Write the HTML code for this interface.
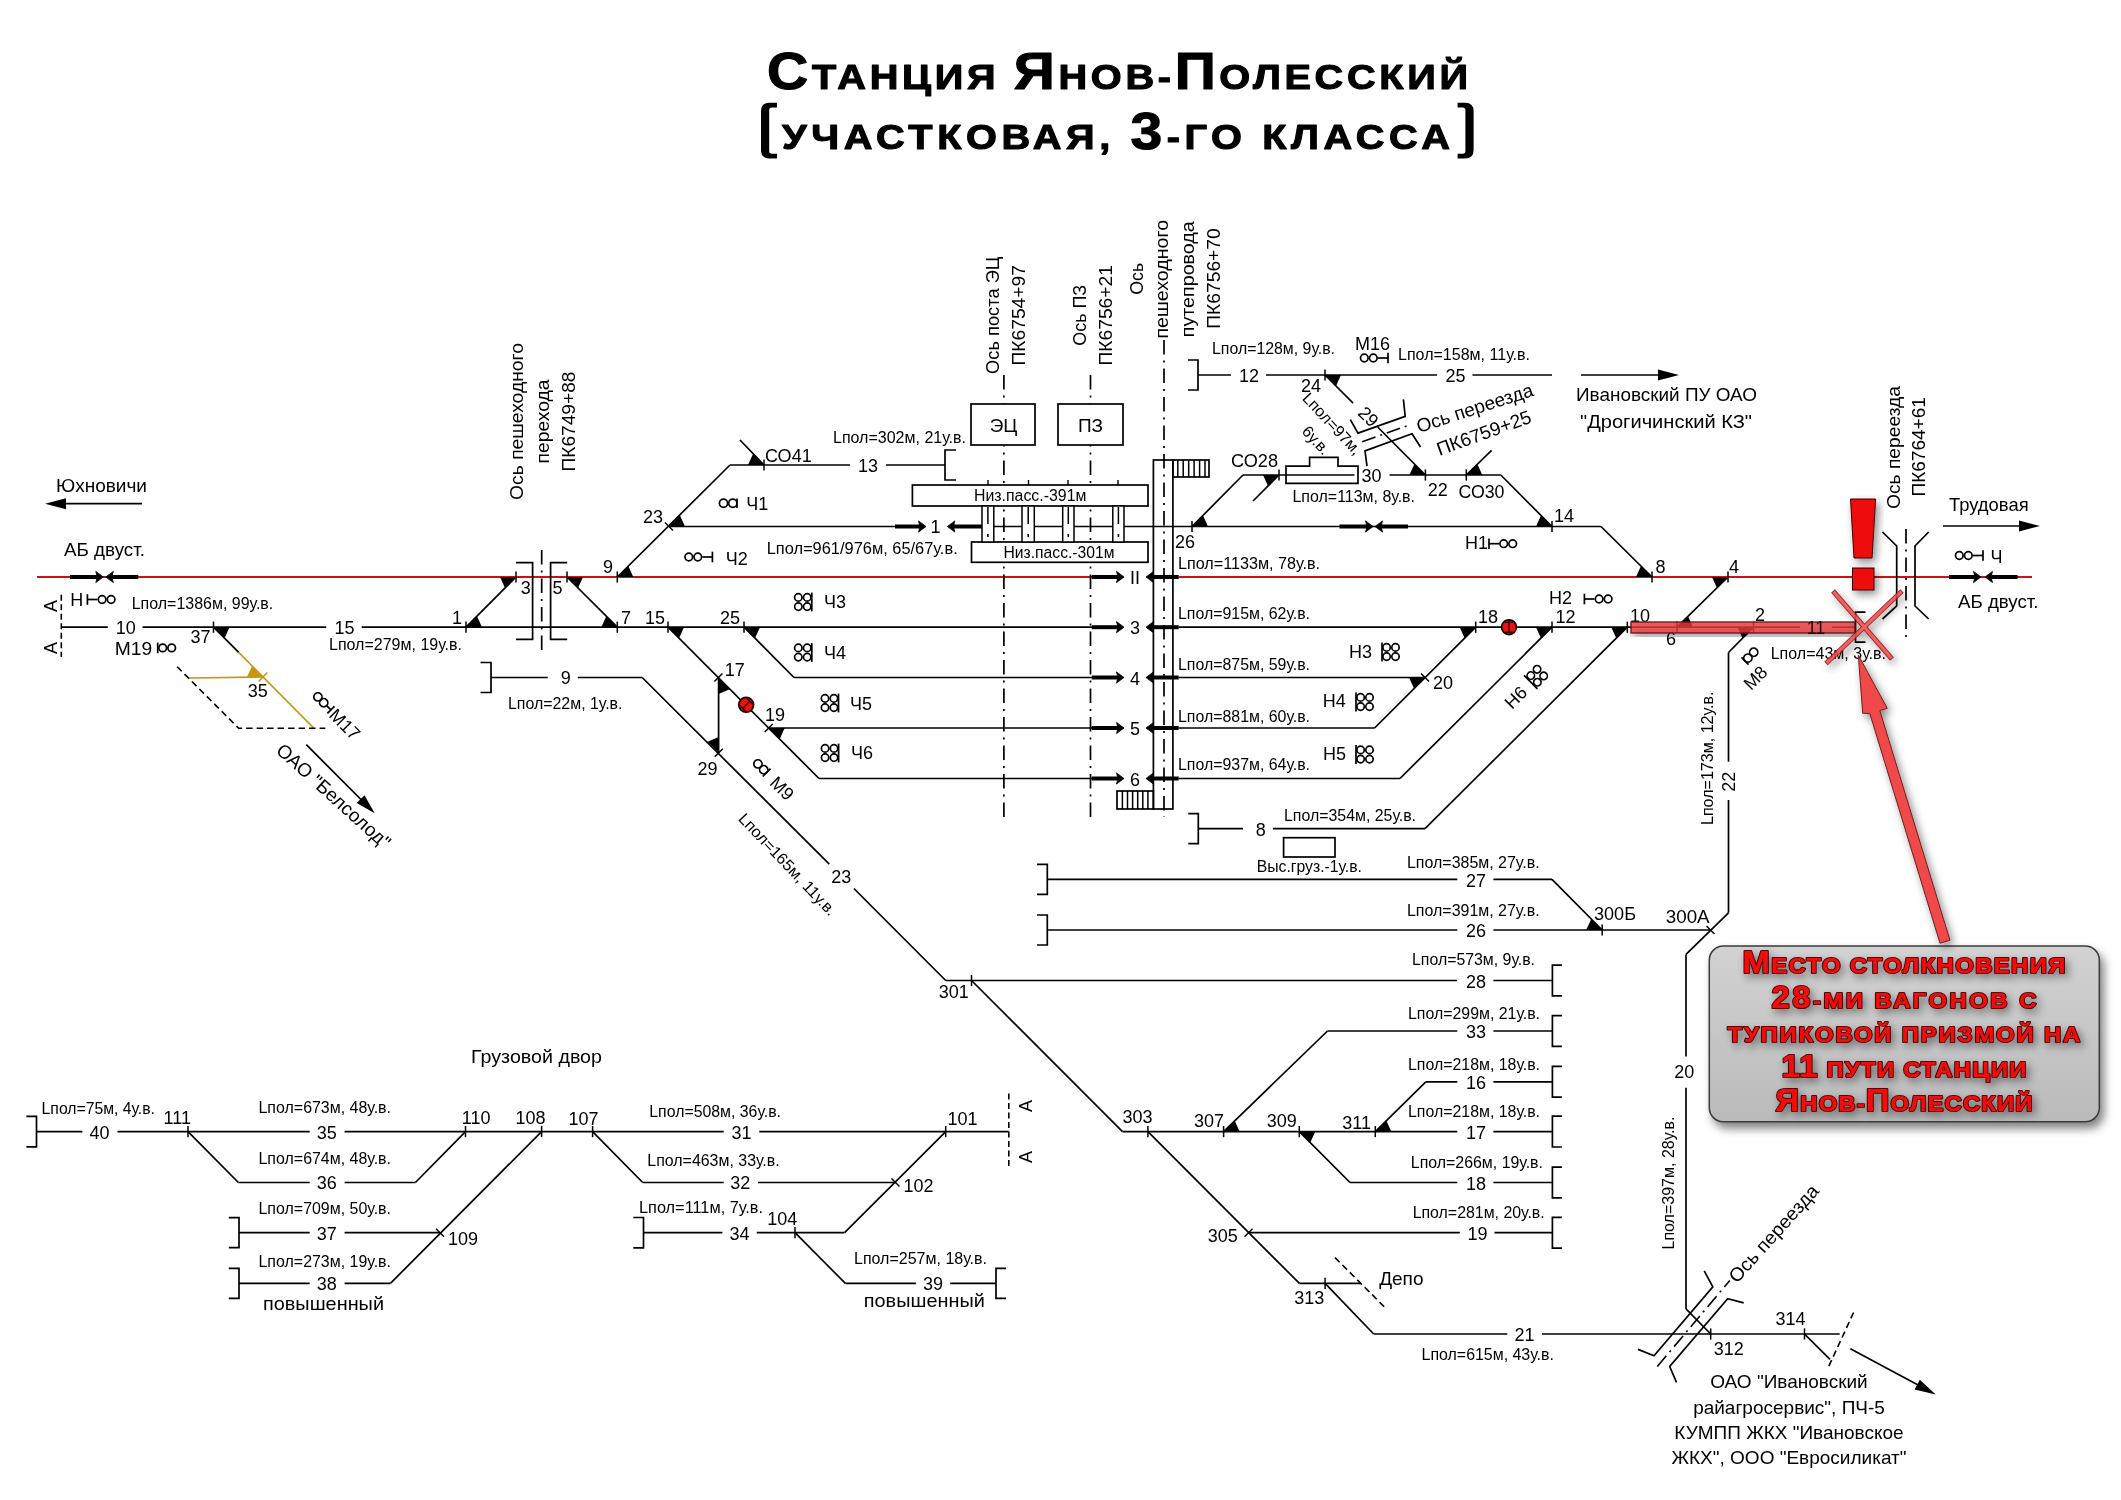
<!DOCTYPE html>
<html><head><meta charset="utf-8"><title>Станция Янов-Полесский</title>
<style>
html,body{margin:0;padding:0;background:#fff;}
body{width:2121px;height:1500px;overflow:hidden;}
svg{display:block;font-family:"Liberation Sans", sans-serif;will-change:transform;}
</style></head><body>
<svg width="2121" height="1500" viewBox="0 0 2121 1500">
<defs>
<filter id="shd" x="-30%" y="-30%" width="160%" height="160%"><feGaussianBlur in="SourceAlpha" stdDeviation="4"/><feOffset dx="3" dy="4"/><feComponentTransfer><feFuncA type="linear" slope="0.45"/></feComponentTransfer><feMerge><feMergeNode/><feMergeNode in="SourceGraphic"/></feMerge></filter>
<filter id="shd2" x="-10%" y="-20%" width="130%" height="150%"><feGaussianBlur in="SourceAlpha" stdDeviation="5"/><feOffset dx="4" dy="6"/><feComponentTransfer><feFuncA type="linear" slope="0.5"/></feComponentTransfer><feMerge><feMergeNode/><feMergeNode in="SourceGraphic"/></feMerge></filter>
<linearGradient id="gbox" x1="0" y1="0" x2="0" y2="1"><stop offset="0" stop-color="#d2d2d2"/><stop offset="1" stop-color="#bababa"/></linearGradient>
</defs>
<rect x="0" y="0" width="2121" height="1500" fill="#fff"/>
<g transform="translate(767,89) scale(1.12,1)"><text x="0" y="0" font-weight="bold" letter-spacing="3.25" fill="#000" stroke="#000" stroke-width="1.1" stroke-linejoin="round" ><tspan font-size="51">С</tspan><tspan font-size="35.5">ТАНЦИЯ </tspan><tspan font-size="51">Я</tspan><tspan font-size="35.5">НОВ-</tspan><tspan font-size="51">П</tspan><tspan font-size="35.5">ОЛЕССКИЙ</tspan></text></g>
<g transform="translate(782,149) scale(1.12,1)"><text x="0" y="0" font-weight="bold" letter-spacing="4.07" fill="#000" stroke="#000" stroke-width="1.1" stroke-linejoin="round" ><tspan font-size="35.5">УЧАСТКОВАЯ, </tspan><tspan font-size="51">3</tspan><tspan font-size="35.5">-ГО КЛАССА</tspan></text></g>
<path d="M 777,102.8 L 769.5,102.8 Q 761,102.8 761,111.3 L 761,150 Q 761,158.5 769.5,158.5 L 777,158.5 L 777,153.8 L 772,153.8 Q 769.2,153.8 769.2,151 L 769.2,110.3 Q 769.2,107.5 772,107.5 L 777,107.5 Z" fill="#000"/>
<path d="M 777,102.8 L 769.5,102.8 Q 761,102.8 761,111.3 L 761,150 Q 761,158.5 769.5,158.5 L 777,158.5 L 777,153.8 L 772,153.8 Q 769.2,153.8 769.2,151 L 769.2,110.3 Q 769.2,107.5 772,107.5 L 777,107.5 Z" fill="#000" transform="translate(2234.6,0) scale(-1,1)"/>
<text x="56" y="491.7" font-size="19" text-anchor="start" fill="#000" font-weight="normal" textLength="91" lengthAdjust="spacingAndGlyphs" >Юхновичи</text>
<line x1="142" y1="503.7" x2="64" y2="503.7" stroke="#000" stroke-width="1.7" />
<polygon points="45,503.7 66,498.2 66,509.2" fill="#000" stroke="none" stroke-width="0" />
<text x="64" y="556" font-size="19" text-anchor="start" fill="#000" font-weight="normal" textLength="81" lengthAdjust="spacingAndGlyphs" >АБ двуст.</text>
<line x1="37" y1="577" x2="1092" y2="577" stroke="#d01010" stroke-width="2" />
<line x1="1178.7" y1="577" x2="2032" y2="577" stroke="#d01010" stroke-width="2" />
<line x1="70" y1="577" x2="98.3" y2="577" stroke="#000" stroke-width="4" />
<polygon points="103.3,577 95.8,571.4 97.3,577 95.8,582.6" fill="#000" stroke="#000" stroke-width="0.8" />
<line x1="110.8" y1="577" x2="138.3" y2="577" stroke="#000" stroke-width="4" />
<polygon points="105.8,577 113.3,571.4 111.8,577 113.3,582.6" fill="#000" stroke="#000" stroke-width="0.8" />
<text x="70.2" y="606.4" font-size="18" text-anchor="start" fill="#000" font-weight="normal" >Н</text>
<line x1="87.4" y1="594.2" x2="87.4" y2="604.8" stroke="#000" stroke-width="1.7" />
<line x1="87.4" y1="599.5" x2="97.4" y2="599.5" stroke="#000" stroke-width="1.7" />
<circle cx="102.1" cy="599.5" r="3.8" fill="none" stroke="#000" stroke-width="1.7"/>
<circle cx="111.1" cy="599.5" r="3.8" fill="none" stroke="#000" stroke-width="1.7"/>
<line x1="61.3" y1="594.7" x2="61.3" y2="657" stroke="#000" stroke-width="1.6" stroke-dasharray="6,3.5"/>
<text x="56.9" y="606" font-size="18" text-anchor="middle" fill="#000" font-weight="normal" transform="rotate(-90 56.9 606)" >А</text>
<text x="56.9" y="648" font-size="18" text-anchor="middle" fill="#000" font-weight="normal" transform="rotate(-90 56.9 648)" >А</text>
<text x="131.7" y="609.2" font-size="16" text-anchor="start" fill="#000" font-weight="normal" textLength="141.6" lengthAdjust="spacingAndGlyphs" >Lпол=1386м, 99у.в.</text>
<line x1="61.3" y1="627.2" x2="107.8" y2="627.2" stroke="#000" stroke-width="1.7" />
<text x="125.7" y="633.6" font-size="18" text-anchor="middle" fill="#000" font-weight="normal" >10</text>
<line x1="142.5" y1="627.2" x2="326.2" y2="627.2" stroke="#000" stroke-width="1.7" />
<text x="344.4" y="633.6" font-size="18" text-anchor="middle" fill="#000" font-weight="normal" >15</text>
<line x1="361.7" y1="627.2" x2="1092" y2="627.2" stroke="#000" stroke-width="1.7" />
<text x="114.7" y="654.6" font-size="18" text-anchor="start" fill="#000" font-weight="normal" textLength="37.5" lengthAdjust="spacingAndGlyphs" >М19</text>
<line x1="157.7" y1="642.6" x2="157.7" y2="653.2" stroke="#000" stroke-width="1.7" />
<line x1="157.7" y1="647.9" x2="158" y2="647.9" stroke="#000" stroke-width="1.7" />
<circle cx="162.7" cy="647.9" r="3.8" fill="none" stroke="#000" stroke-width="1.7"/>
<circle cx="171.7" cy="647.9" r="3.8" fill="none" stroke="#000" stroke-width="1.7"/>
<text x="200.5" y="643.3" font-size="18" text-anchor="middle" fill="#000" font-weight="normal" >37</text>
<line x1="213.5" y1="621.6" x2="213.5" y2="632.8" stroke="#000" stroke-width="1.5" />
<polygon points="213.5,627.2 229.5,627.2 224.5,638.2" fill="#000" stroke="none" stroke-width="0" />
<line x1="213.5" y1="627.2" x2="238.7" y2="652.4" stroke="#000" stroke-width="1.7" />
<line x1="238.7" y1="652.4" x2="313.5" y2="727.9" stroke="#c8960f" stroke-width="1.7" />
<line x1="189.3" y1="678" x2="263" y2="677" stroke="#c8960f" stroke-width="1.7" />
<polygon points="263,677 247,677 252,666" fill="#c8960f" stroke="none" stroke-width="0" />
<line x1="258.6" y1="681.5" x2="267.3" y2="672.5" stroke="#c8960f" stroke-width="1.5" />
<text x="257.7" y="697" font-size="18" text-anchor="middle" fill="#000" font-weight="normal" >35</text>
<polyline points="177.1,666.7 238.7,728.3 325.3,728.3" fill="none" stroke="#000" stroke-width="1.6" stroke-linejoin="miter" stroke-dasharray="6.5,4"/>
<text x="329" y="650.3" font-size="16" text-anchor="start" fill="#000" font-weight="normal" >Lпол=279м, 19у.в.</text>
<g transform="translate(315,694) rotate(45)"><circle cx="4.1" cy="0" r="4.1" fill="none" stroke="#000" stroke-width="1.7"/><circle cx="12.3" cy="0" r="4.1" fill="none" stroke="#000" stroke-width="1.7"/><line x1="16.4" y1="0" x2="22.5" y2="0" stroke="#000" stroke-width="1.7"/><line x1="22.5" y1="-5" x2="22.5" y2="5" stroke="#000" stroke-width="1.7"/><text x="25" y="6.5" font-size="18">М17</text></g>
<text x="275" y="752" font-size="19" text-anchor="start" fill="#000" font-weight="normal" transform="rotate(42 275 752)" >ОАО &quot;Белсолод&quot;</text>
<line x1="306.3" y1="744.7" x2="362" y2="800.5" stroke="#000" stroke-width="1.7" />
<polygon points="374.7,813.2 356.7,802.9 364.5,795.2" fill="#000" stroke="none" stroke-width="0" />
<text x="523" y="421.5" font-size="19" text-anchor="middle" fill="#000" font-weight="normal" textLength="157" lengthAdjust="spacingAndGlyphs" transform="rotate(-90 523 421.5)" >Ось пешеходного</text>
<text x="548.5" y="421.5" font-size="19" text-anchor="middle" fill="#000" font-weight="normal" textLength="84" lengthAdjust="spacingAndGlyphs" transform="rotate(-90 548.5 421.5)" >перехода</text>
<text x="574.5" y="421.5" font-size="19" text-anchor="middle" fill="#000" font-weight="normal" textLength="100" lengthAdjust="spacingAndGlyphs" transform="rotate(-90 574.5 421.5)" >ПК6749+88</text>
<polyline points="516,562.6 532.6,562.6 532.6,639.4 516,639.4" fill="none" stroke="#000" stroke-width="1.7" stroke-linejoin="miter" />
<polyline points="567.2,562.6 550.6,562.6 550.6,639.4 567.2,639.4" fill="none" stroke="#000" stroke-width="1.7" stroke-linejoin="miter" />
<line x1="541.7" y1="550" x2="541.7" y2="654" stroke="#000" stroke-width="1.7" stroke-dasharray="14.5,6,2,6"/>
<line x1="466" y1="621.6" x2="466" y2="632.8" stroke="#000" stroke-width="1.5" />
<polygon points="466,627.2 482,627.2 477,616.2" fill="#000" stroke="none" stroke-width="0" />
<line x1="466" y1="627.2" x2="516" y2="577" stroke="#000" stroke-width="1.7" />
<line x1="516" y1="571.4" x2="516" y2="582.6" stroke="#000" stroke-width="1.5" />
<polygon points="516,577 500,577 505,588" fill="#000" stroke="none" stroke-width="0" />
<text x="457" y="624" font-size="18" text-anchor="middle" fill="#000" font-weight="normal" >1</text>
<text x="525.7" y="594" font-size="18" text-anchor="middle" fill="#000" font-weight="normal" >3</text>
<line x1="567" y1="571.4" x2="567" y2="582.6" stroke="#000" stroke-width="1.5" />
<polygon points="567,577 583,577 578,588" fill="#000" stroke="none" stroke-width="0" />
<line x1="567" y1="577" x2="617.3" y2="627.2" stroke="#000" stroke-width="1.7" />
<line x1="617.3" y1="621.6" x2="617.3" y2="632.8" stroke="#000" stroke-width="1.5" />
<polygon points="617.3,627.2 601.3,627.2 606.3,616.2" fill="#000" stroke="none" stroke-width="0" />
<text x="557.4" y="594" font-size="18" text-anchor="middle" fill="#000" font-weight="normal" >5</text>
<text x="626" y="624" font-size="18" text-anchor="middle" fill="#000" font-weight="normal" >7</text>
<line x1="617.3" y1="571.4" x2="617.3" y2="582.6" stroke="#000" stroke-width="1.5" />
<polygon points="617.3,577 633.3,577 628.3,566" fill="#000" stroke="none" stroke-width="0" />
<text x="608" y="572.5" font-size="18" text-anchor="middle" fill="#000" font-weight="normal" >9</text>
<line x1="617.3" y1="577" x2="730" y2="465" stroke="#000" stroke-width="1.7" />
<line x1="665" y1="522.5" x2="673" y2="530.5" stroke="#000" stroke-width="1.5" />
<polygon points="669,526.5 685,526.5 680,515.5" fill="#000" stroke="none" stroke-width="0" />
<text x="653" y="522.5" font-size="18" text-anchor="middle" fill="#000" font-weight="normal" >23</text>
<line x1="669" y1="526.5" x2="895" y2="526.5" stroke="#000" stroke-width="1.7" />
<line x1="895" y1="526.5" x2="921" y2="526.5" stroke="#000" stroke-width="4" />
<polygon points="926,526.5 918.5,520.9 920,526.5 918.5,532.1" fill="#000" stroke="#000" stroke-width="0.8" />
<text x="935.5" y="533" font-size="18" text-anchor="middle" fill="#000" font-weight="normal" >1</text>
<line x1="952.4" y1="526.5" x2="983" y2="526.5" stroke="#000" stroke-width="4" />
<polygon points="947.4,526.5 954.9,520.9 953.4,526.5 954.9,532.1" fill="#000" stroke="#000" stroke-width="0.8" />
<line x1="983" y1="526.5" x2="1601" y2="526.5" stroke="#000" stroke-width="1.7" />
<line x1="1601" y1="526.5" x2="1652" y2="577" stroke="#000" stroke-width="1.7" />
<text x="766.7" y="553.6" font-size="16" text-anchor="start" fill="#000" font-weight="normal" textLength="191" lengthAdjust="spacingAndGlyphs" >Lпол=961/976м, 65/67у.в.</text>
<line x1="730" y1="465" x2="850" y2="465" stroke="#000" stroke-width="1.7" />
<text x="868" y="472" font-size="18" text-anchor="middle" fill="#000" font-weight="normal" >13</text>
<line x1="886" y1="465" x2="945" y2="465" stroke="#000" stroke-width="1.7" />
<polyline points="956,450 945,450 945,480 956,480" fill="none" stroke="#000" stroke-width="1.7" stroke-linejoin="miter" />
<line x1="764" y1="459.4" x2="764" y2="470.6" stroke="#000" stroke-width="1.5" />
<polygon points="764,465 748,465 753,454" fill="#000" stroke="none" stroke-width="0" />
<line x1="740" y1="440" x2="764" y2="465" stroke="#000" stroke-width="1.7" />
<text x="765" y="462" font-size="18" text-anchor="start" fill="#000" font-weight="normal" textLength="46.7" lengthAdjust="spacingAndGlyphs" >СО41</text>
<text x="833" y="443" font-size="16" text-anchor="start" fill="#000" font-weight="normal" textLength="133" lengthAdjust="spacingAndGlyphs" >Lпол=302м, 21у.в.</text>
<line x1="737" y1="498.5" x2="737" y2="508.1" stroke="#000" stroke-width="1.7" />
<circle cx="732.8" cy="503.3" r="4.1" fill="none" stroke="#000" stroke-width="1.7"/>
<circle cx="723.5" cy="503.3" r="4.1" fill="none" stroke="#000" stroke-width="1.7"/>
<text x="746.3" y="509.8" font-size="18" text-anchor="start" fill="#000" font-weight="normal" >Ч1</text>
<line x1="712.4" y1="551.7" x2="712.4" y2="562.3" stroke="#000" stroke-width="1.7" />
<line x1="712.4" y1="557" x2="702.4" y2="557" stroke="#000" stroke-width="1.7" />
<circle cx="697.8" cy="557" r="3.8" fill="none" stroke="#000" stroke-width="1.7"/>
<circle cx="688.8" cy="557" r="3.8" fill="none" stroke="#000" stroke-width="1.7"/>
<text x="725.7" y="565" font-size="18" text-anchor="start" fill="#000" font-weight="normal" >Ч2</text>
<line x1="668" y1="621.6" x2="668" y2="632.8" stroke="#000" stroke-width="1.5" />
<polygon points="668,627.2 684,627.2 679,638.2" fill="#000" stroke="none" stroke-width="0" />
<line x1="668" y1="627.2" x2="819" y2="778.5" stroke="#000" stroke-width="1.7" />
<line x1="744" y1="621.6" x2="744" y2="632.8" stroke="#000" stroke-width="1.5" />
<polygon points="744,627.2 760,627.2 755,638.2" fill="#000" stroke="none" stroke-width="0" />
<line x1="744" y1="627.2" x2="794" y2="677.5" stroke="#000" stroke-width="1.7" />
<text x="655" y="624" font-size="18" text-anchor="middle" fill="#000" font-weight="normal" >15</text>
<text x="730" y="624" font-size="18" text-anchor="middle" fill="#000" font-weight="normal" >25</text>
<line x1="794" y1="677.5" x2="1092" y2="677.5" stroke="#000" stroke-width="1.7" />
<line x1="819" y1="778.5" x2="1092" y2="778.5" stroke="#000" stroke-width="1.7" />
<line x1="768.7" y1="728" x2="1092" y2="728" stroke="#000" stroke-width="1.7" />
<line x1="714.4" y1="681.5" x2="722.4" y2="673.5" stroke="#000" stroke-width="1.5" />
<polygon points="718.6,678 718.6,694 729.8,689.2" fill="#000" stroke="none" stroke-width="0" />
<text x="734.7" y="676" font-size="18" text-anchor="middle" fill="#000" font-weight="normal" >17</text>
<line x1="764.7" y1="732" x2="772.7" y2="724" stroke="#000" stroke-width="1.5" />
<polygon points="768.7,728 784.7,728 779.7,739" fill="#000" stroke="none" stroke-width="0" />
<text x="775" y="721.4" font-size="18" text-anchor="middle" fill="#000" font-weight="normal" >19</text>
<line x1="718.6" y1="678" x2="718.6" y2="752.7" stroke="#000" stroke-width="1.7" />
<line x1="714.8" y1="756.7" x2="722.8" y2="748.7" stroke="#000" stroke-width="1.5" />
<polygon points="718.6,752.7 718.6,737 707.5,741.7" fill="#000" stroke="none" stroke-width="0" />
<text x="707.5" y="775" font-size="18" text-anchor="middle" fill="#000" font-weight="normal" >29</text>
<g transform="translate(746.2,704.8) rotate(45)"><circle cx="0" cy="0" r="7.4" fill="#f01010" stroke="#150000" stroke-width="1.7"/><line x1="0" y1="-5" x2="0" y2="5" stroke="#3a0000" stroke-width="1.6"/><line x1="-4" y1="-5" x2="4" y2="-5" stroke="#3a0000" stroke-width="1.4"/><line x1="-4" y1="5" x2="4" y2="5" stroke="#3a0000" stroke-width="1.4"/></g>
<line x1="811.8" y1="592.6" x2="811.8" y2="611.4" stroke="#000" stroke-width="1.7" />
<circle cx="807.2" cy="597.4" r="3.7" fill="none" stroke="#000" stroke-width="1.7"/>
<circle cx="807.2" cy="606.6" r="3.7" fill="none" stroke="#000" stroke-width="1.7"/>
<circle cx="798.3" cy="597.4" r="3.7" fill="none" stroke="#000" stroke-width="1.7"/>
<circle cx="798.3" cy="606.6" r="3.7" fill="none" stroke="#000" stroke-width="1.7"/>
<text x="824" y="607.6" font-size="18" text-anchor="start" fill="#000" font-weight="normal" >Ч3</text>
<line x1="811.8" y1="643.1" x2="811.8" y2="661.9" stroke="#000" stroke-width="1.7" />
<circle cx="807.2" cy="647.9" r="3.7" fill="none" stroke="#000" stroke-width="1.7"/>
<circle cx="807.2" cy="657.1" r="3.7" fill="none" stroke="#000" stroke-width="1.7"/>
<circle cx="798.3" cy="647.9" r="3.7" fill="none" stroke="#000" stroke-width="1.7"/>
<circle cx="798.3" cy="657.1" r="3.7" fill="none" stroke="#000" stroke-width="1.7"/>
<text x="824" y="658.6" font-size="18" text-anchor="start" fill="#000" font-weight="normal" >Ч4</text>
<line x1="838.5" y1="693.6" x2="838.5" y2="712.4" stroke="#000" stroke-width="1.7" />
<circle cx="833.9" cy="698.4" r="3.7" fill="none" stroke="#000" stroke-width="1.7"/>
<circle cx="833.9" cy="707.6" r="3.7" fill="none" stroke="#000" stroke-width="1.7"/>
<circle cx="825" cy="698.4" r="3.7" fill="none" stroke="#000" stroke-width="1.7"/>
<circle cx="825" cy="707.6" r="3.7" fill="none" stroke="#000" stroke-width="1.7"/>
<text x="850" y="709.6" font-size="18" text-anchor="start" fill="#000" font-weight="normal" >Ч5</text>
<line x1="838.6" y1="743.6" x2="838.6" y2="762.4" stroke="#000" stroke-width="1.7" />
<circle cx="834" cy="748.4" r="3.7" fill="none" stroke="#000" stroke-width="1.7"/>
<circle cx="834" cy="757.6" r="3.7" fill="none" stroke="#000" stroke-width="1.7"/>
<circle cx="825.1" cy="748.4" r="3.7" fill="none" stroke="#000" stroke-width="1.7"/>
<circle cx="825.1" cy="757.6" r="3.7" fill="none" stroke="#000" stroke-width="1.7"/>
<text x="850.9" y="759.4" font-size="18" text-anchor="start" fill="#000" font-weight="normal" >Ч6</text>
<g transform="translate(755,761) rotate(45)"><circle cx="4.1" cy="0" r="4.1" fill="none" stroke="#000" stroke-width="1.7"/><circle cx="12.3" cy="0" r="4.1" fill="none" stroke="#000" stroke-width="1.7"/><line x1="16.4" y1="-5.5" x2="16.4" y2="5.5" stroke="#000" stroke-width="1.7"/><text x="26" y="6.5" font-size="18">М9</text></g>
<polyline points="480.5,662.5 491,662.5 491,692.5 480.5,692.5" fill="none" stroke="#000" stroke-width="1.7" stroke-linejoin="miter" />
<line x1="491" y1="677.5" x2="547.7" y2="677.5" stroke="#000" stroke-width="1.7" />
<text x="565.8" y="684" font-size="18" text-anchor="middle" fill="#000" font-weight="normal" >9</text>
<line x1="577.8" y1="677.5" x2="642.2" y2="677.5" stroke="#000" stroke-width="1.7" />
<line x1="642.2" y1="677.5" x2="829.3" y2="864.2" stroke="#000" stroke-width="1.7" />
<text x="841.3" y="883.1" font-size="18" text-anchor="middle" fill="#000" font-weight="normal" >23</text>
<line x1="853.9" y1="888.5" x2="945.7" y2="980.5" stroke="#000" stroke-width="1.7" />
<text x="508" y="708.5" font-size="16" text-anchor="start" fill="#000" font-weight="normal" textLength="114.5" lengthAdjust="spacingAndGlyphs" >Lпол=22м, 1у.в.</text>
<text x="737.5" y="819.5" font-size="16" text-anchor="start" fill="#000" font-weight="normal" textLength="134" lengthAdjust="spacingAndGlyphs" transform="rotate(46.5 737.5 819.5)" >Lпол=165м, 11у.в.</text>
<line x1="945.7" y1="980.5" x2="1457" y2="980.5" stroke="#000" stroke-width="1.7" />
<line x1="971.5" y1="974.9" x2="971.5" y2="986.1" stroke="#000" stroke-width="1.5" />
<text x="953.8" y="997.8" font-size="18" text-anchor="middle" fill="#000" font-weight="normal" >301</text>
<line x1="971.5" y1="980.5" x2="1122.5" y2="1131.6" stroke="#000" stroke-width="1.7" />
<line x1="1003.9" y1="375" x2="1003.9" y2="817" stroke="#000" stroke-width="1.7" stroke-dasharray="14.5,6,2,6"/>
<line x1="1090.5" y1="375" x2="1090.5" y2="817" stroke="#000" stroke-width="1.7" stroke-dasharray="14.5,6,2,6"/>
<line x1="1164" y1="340" x2="1164" y2="817" stroke="#000" stroke-width="1.7" stroke-dasharray="14.5,6,2,6"/>
<text x="998.7" y="315.3" font-size="18.3" text-anchor="middle" fill="#000" font-weight="normal" textLength="117.4" lengthAdjust="spacingAndGlyphs" transform="rotate(-90 998.7 315.3)" >Ось поста ЭЦ</text>
<text x="1025.5" y="315.3" font-size="19" text-anchor="middle" fill="#000" font-weight="normal" textLength="100.5" lengthAdjust="spacingAndGlyphs" transform="rotate(-90 1025.5 315.3)" >ПК6754+97</text>
<text x="1086" y="315.3" font-size="18.3" text-anchor="middle" fill="#000" font-weight="normal" textLength="61" lengthAdjust="spacingAndGlyphs" transform="rotate(-90 1086 315.3)" >Ось ПЗ</text>
<text x="1111.8" y="315.3" font-size="19" text-anchor="middle" fill="#000" font-weight="normal" textLength="100.5" lengthAdjust="spacingAndGlyphs" transform="rotate(-90 1111.8 315.3)" >ПК6756+21</text>
<text x="1143" y="278.8" font-size="18.3" text-anchor="middle" fill="#000" font-weight="normal" textLength="32" lengthAdjust="spacingAndGlyphs" transform="rotate(-90 1143 278.8)" >Ось</text>
<text x="1168.5" y="279.2" font-size="18.3" text-anchor="middle" fill="#000" font-weight="normal" textLength="118.8" lengthAdjust="spacingAndGlyphs" transform="rotate(-90 1168.5 279.2)" >пешеходного</text>
<text x="1194" y="279.2" font-size="18.3" text-anchor="middle" fill="#000" font-weight="normal" textLength="116" lengthAdjust="spacingAndGlyphs" transform="rotate(-90 1194 279.2)" >путепровода</text>
<text x="1219.5" y="278.5" font-size="19" text-anchor="middle" fill="#000" font-weight="normal" textLength="100.4" lengthAdjust="spacingAndGlyphs" transform="rotate(-90 1219.5 278.5)" >ПК6756+70</text>
<rect x="971" y="404" width="64" height="41" fill="#fff" stroke="#000" stroke-width="1.7" />
<text x="1003.5" y="432" font-size="19" text-anchor="middle" fill="#000" font-weight="normal" >ЭЦ</text>
<rect x="1058" y="404" width="65" height="41" fill="#fff" stroke="#000" stroke-width="1.7" />
<text x="1090.5" y="432" font-size="19" text-anchor="middle" fill="#000" font-weight="normal" >ПЗ</text>
<rect x="912.4" y="485" width="235.6" height="21" fill="#fff" stroke="#000" stroke-width="1.7" />
<text x="1030.2" y="501.3" font-size="16" text-anchor="middle" fill="#000" font-weight="normal" textLength="112.4" lengthAdjust="spacingAndGlyphs" >Низ.пасс.-391м</text>
<rect x="971.5" y="542" width="176.5" height="20.3" fill="#fff" stroke="#000" stroke-width="1.7" />
<text x="1059" y="557.9" font-size="16" text-anchor="middle" fill="#000" font-weight="normal" textLength="111" lengthAdjust="spacingAndGlyphs" >Низ.пасс.-301м</text>
<rect x="982" y="506" width="11.8" height="36" fill="#fff" stroke="#000" stroke-width="1.5" />
<line x1="987.9" y1="507" x2="987.9" y2="524" stroke="#000" stroke-width="1.5" />
<line x1="987.9" y1="534" x2="987.9" y2="537" stroke="#000" stroke-width="1.6" />
<rect x="1022" y="506" width="12.3" height="36" fill="#fff" stroke="#000" stroke-width="1.5" />
<line x1="1028.2" y1="507" x2="1028.2" y2="524" stroke="#000" stroke-width="1.5" />
<line x1="1028.2" y1="534" x2="1028.2" y2="537" stroke="#000" stroke-width="1.6" />
<rect x="1062.7" y="506" width="11.3" height="36" fill="#fff" stroke="#000" stroke-width="1.5" />
<line x1="1068.3" y1="507" x2="1068.3" y2="524" stroke="#000" stroke-width="1.5" />
<line x1="1068.3" y1="534" x2="1068.3" y2="537" stroke="#000" stroke-width="1.6" />
<rect x="1112.8" y="506" width="11.2" height="36" fill="#fff" stroke="#000" stroke-width="1.5" />
<line x1="1118.4" y1="507" x2="1118.4" y2="524" stroke="#000" stroke-width="1.5" />
<line x1="1118.4" y1="534" x2="1118.4" y2="537" stroke="#000" stroke-width="1.6" />
<line x1="988" y1="480" x2="988" y2="485" stroke="#000" stroke-width="1.4" />
<line x1="1028.5" y1="480" x2="1028.5" y2="485" stroke="#000" stroke-width="1.4" />
<line x1="1068" y1="480" x2="1068" y2="485" stroke="#000" stroke-width="1.4" />
<line x1="1118" y1="480" x2="1118" y2="485" stroke="#000" stroke-width="1.4" />
<rect x="1153.4" y="460" width="19.5" height="349" fill="none" stroke="#000" stroke-width="1.7" />
<rect x="1172.9" y="460" width="36.1" height="17" fill="none" stroke="#000" stroke-width="1.7" />
<line x1="1177.8" y1="460" x2="1177.8" y2="477" stroke="#000" stroke-width="1.5" />
<line x1="1183.2" y1="460" x2="1183.2" y2="477" stroke="#000" stroke-width="1.5" />
<line x1="1188.7" y1="460" x2="1188.7" y2="477" stroke="#000" stroke-width="1.5" />
<line x1="1194.1" y1="460" x2="1194.1" y2="477" stroke="#000" stroke-width="1.5" />
<line x1="1199.6" y1="460" x2="1199.6" y2="477" stroke="#000" stroke-width="1.5" />
<line x1="1205" y1="460" x2="1205" y2="477" stroke="#000" stroke-width="1.5" />
<rect x="1117" y="791" width="36.4" height="18" fill="none" stroke="#000" stroke-width="1.7" />
<line x1="1122.4" y1="791" x2="1122.4" y2="809" stroke="#000" stroke-width="1.5" />
<line x1="1127.5" y1="791" x2="1127.5" y2="809" stroke="#000" stroke-width="1.5" />
<line x1="1132.6" y1="791" x2="1132.6" y2="809" stroke="#000" stroke-width="1.5" />
<line x1="1137.7" y1="791" x2="1137.7" y2="809" stroke="#000" stroke-width="1.5" />
<line x1="1142.8" y1="791" x2="1142.8" y2="809" stroke="#000" stroke-width="1.5" />
<line x1="1147.9" y1="791" x2="1147.9" y2="809" stroke="#000" stroke-width="1.5" />
<line x1="1091.8" y1="577" x2="1119" y2="577" stroke="#000" stroke-width="4" />
<polygon points="1124,577 1116.5,571.4 1118,577 1116.5,582.6" fill="#000" stroke="#000" stroke-width="0.8" />
<text x="1135" y="584" font-size="18" text-anchor="middle" fill="#000" font-weight="normal" >II</text>
<line x1="1151" y1="577" x2="1178.7" y2="577" stroke="#000" stroke-width="4" />
<polygon points="1146,577 1153.5,571.4 1152,577 1153.5,582.6" fill="#000" stroke="#000" stroke-width="0.8" />
<line x1="1091.8" y1="627.2" x2="1119" y2="627.2" stroke="#000" stroke-width="4" />
<polygon points="1124,627.2 1116.5,621.6 1118,627.2 1116.5,632.8" fill="#000" stroke="#000" stroke-width="0.8" />
<text x="1135" y="634.2" font-size="18" text-anchor="middle" fill="#000" font-weight="normal" >3</text>
<line x1="1151" y1="627.2" x2="1178.7" y2="627.2" stroke="#000" stroke-width="4" />
<polygon points="1146,627.2 1153.5,621.6 1152,627.2 1153.5,632.8" fill="#000" stroke="#000" stroke-width="0.8" />
<line x1="1091.8" y1="677.5" x2="1119" y2="677.5" stroke="#000" stroke-width="4" />
<polygon points="1124,677.5 1116.5,671.9 1118,677.5 1116.5,683.1" fill="#000" stroke="#000" stroke-width="0.8" />
<text x="1135" y="684.5" font-size="18" text-anchor="middle" fill="#000" font-weight="normal" >4</text>
<line x1="1151" y1="677.5" x2="1178.7" y2="677.5" stroke="#000" stroke-width="4" />
<polygon points="1146,677.5 1153.5,671.9 1152,677.5 1153.5,683.1" fill="#000" stroke="#000" stroke-width="0.8" />
<line x1="1091.8" y1="728" x2="1119" y2="728" stroke="#000" stroke-width="4" />
<polygon points="1124,728 1116.5,722.4 1118,728 1116.5,733.6" fill="#000" stroke="#000" stroke-width="0.8" />
<text x="1135" y="735" font-size="18" text-anchor="middle" fill="#000" font-weight="normal" >5</text>
<line x1="1151" y1="728" x2="1178.7" y2="728" stroke="#000" stroke-width="4" />
<polygon points="1146,728 1153.5,722.4 1152,728 1153.5,733.6" fill="#000" stroke="#000" stroke-width="0.8" />
<line x1="1091.8" y1="778.5" x2="1119" y2="778.5" stroke="#000" stroke-width="4" />
<polygon points="1124,778.5 1116.5,772.9 1118,778.5 1116.5,784.1" fill="#000" stroke="#000" stroke-width="0.8" />
<text x="1135" y="785.5" font-size="18" text-anchor="middle" fill="#000" font-weight="normal" >6</text>
<line x1="1151" y1="778.5" x2="1178.7" y2="778.5" stroke="#000" stroke-width="4" />
<polygon points="1146,778.5 1153.5,772.9 1152,778.5 1153.5,784.1" fill="#000" stroke="#000" stroke-width="0.8" />
<text x="1178" y="569" font-size="16" text-anchor="start" fill="#000" font-weight="normal" textLength="142" lengthAdjust="spacingAndGlyphs" >Lпол=1133м, 78у.в.</text>
<text x="1178" y="619.4" font-size="16" text-anchor="start" fill="#000" font-weight="normal" textLength="132" lengthAdjust="spacingAndGlyphs" >Lпол=915м, 62у.в.</text>
<text x="1178" y="669.6" font-size="16" text-anchor="start" fill="#000" font-weight="normal" textLength="132" lengthAdjust="spacingAndGlyphs" >Lпол=875м, 59у.в.</text>
<text x="1178" y="721.5" font-size="16" text-anchor="start" fill="#000" font-weight="normal" textLength="132" lengthAdjust="spacingAndGlyphs" >Lпол=881м, 60у.в.</text>
<text x="1178" y="769.8" font-size="16" text-anchor="start" fill="#000" font-weight="normal" textLength="132" lengthAdjust="spacingAndGlyphs" >Lпол=937м, 64у.в.</text>
<line x1="1178.7" y1="627.2" x2="1631" y2="627.2" stroke="#000" stroke-width="1.7" />
<line x1="1178.7" y1="677.5" x2="1425" y2="677.5" stroke="#000" stroke-width="1.7" />
<line x1="1178.7" y1="728" x2="1374.6" y2="728" stroke="#000" stroke-width="1.7" />
<line x1="1178.7" y1="778.5" x2="1400" y2="778.5" stroke="#000" stroke-width="1.7" />
<line x1="1374.6" y1="728" x2="1475.7" y2="627.2" stroke="#000" stroke-width="1.7" />
<line x1="1400" y1="778.5" x2="1552" y2="627.2" stroke="#000" stroke-width="1.7" />
<line x1="1425" y1="828.7" x2="1627.3" y2="627.2" stroke="#000" stroke-width="1.7" />
<polyline points="1188.3,813.7 1198.3,813.7 1198.3,843.7 1188.3,843.7" fill="none" stroke="#000" stroke-width="1.7" stroke-linejoin="miter" />
<line x1="1198.3" y1="828.7" x2="1243" y2="828.7" stroke="#000" stroke-width="1.7" />
<text x="1260.8" y="835.5" font-size="18" text-anchor="middle" fill="#000" font-weight="normal" >8</text>
<line x1="1273" y1="828.7" x2="1425" y2="828.7" stroke="#000" stroke-width="1.7" />
<text x="1284" y="821" font-size="16" text-anchor="start" fill="#000" font-weight="normal" textLength="132" lengthAdjust="spacingAndGlyphs" >Lпол=354м, 25у.в.</text>
<rect x="1283.6" y="837.7" width="51.4" height="19.3" fill="none" stroke="#000" stroke-width="1.7" />
<text x="1256.7" y="872" font-size="16" text-anchor="start" fill="#000" font-weight="normal" textLength="105.3" lengthAdjust="spacingAndGlyphs" >Выс.груз.-1у.в.</text>
<line x1="1475.7" y1="621.6" x2="1475.7" y2="632.8" stroke="#000" stroke-width="1.5" />
<polygon points="1475.7,627.2 1459.7,627.2 1464.7,638.2" fill="#000" stroke="none" stroke-width="0" />
<line x1="1552" y1="621.6" x2="1552" y2="632.8" stroke="#000" stroke-width="1.5" />
<polygon points="1552,627.2 1536,627.2 1541,638.2" fill="#000" stroke="none" stroke-width="0" />
<line x1="1627.3" y1="621.6" x2="1627.3" y2="632.8" stroke="#000" stroke-width="1.5" />
<polygon points="1627.3,627.2 1611.3,627.2 1616.3,638.2" fill="#000" stroke="none" stroke-width="0" />
<line x1="1421" y1="673.5" x2="1429" y2="681.5" stroke="#000" stroke-width="1.5" />
<polygon points="1425,677.5 1409,677.5 1414,688.5" fill="#000" stroke="none" stroke-width="0" />
<text x="1488" y="622.5" font-size="18" text-anchor="middle" fill="#000" font-weight="normal" >18</text>
<text x="1565.6" y="622.5" font-size="18" text-anchor="middle" fill="#000" font-weight="normal" >12</text>
<text x="1640" y="622" font-size="18" text-anchor="middle" fill="#000" font-weight="normal" >10</text>
<text x="1443" y="689" font-size="18" text-anchor="middle" fill="#000" font-weight="normal" >20</text>
<g transform="translate(1509,627.2) rotate(0)"><circle cx="0" cy="0" r="7.4" fill="#f01010" stroke="#150000" stroke-width="1.7"/><line x1="0" y1="-5" x2="0" y2="5" stroke="#3a0000" stroke-width="1.6"/><line x1="-4" y1="-5" x2="4" y2="-5" stroke="#3a0000" stroke-width="1.4"/><line x1="-4" y1="5" x2="4" y2="5" stroke="#3a0000" stroke-width="1.4"/></g>
<text x="1549" y="604.3" font-size="18" text-anchor="start" fill="#000" font-weight="normal" >Н2</text>
<line x1="1584.4" y1="593.7" x2="1584.4" y2="604.3" stroke="#000" stroke-width="1.7" />
<line x1="1584.4" y1="599" x2="1594.4" y2="599" stroke="#000" stroke-width="1.7" />
<circle cx="1599.1" cy="599" r="3.8" fill="none" stroke="#000" stroke-width="1.7"/>
<circle cx="1608.1" cy="599" r="3.8" fill="none" stroke="#000" stroke-width="1.7"/>
<text x="1349" y="657.8" font-size="18" text-anchor="start" fill="#000" font-weight="normal" >Н3</text>
<line x1="1382" y1="642.6" x2="1382" y2="661.4" stroke="#000" stroke-width="1.7" />
<circle cx="1386.6" cy="647.4" r="3.7" fill="none" stroke="#000" stroke-width="1.7"/>
<circle cx="1386.6" cy="656.6" r="3.7" fill="none" stroke="#000" stroke-width="1.7"/>
<circle cx="1395.5" cy="647.4" r="3.7" fill="none" stroke="#000" stroke-width="1.7"/>
<circle cx="1395.5" cy="656.6" r="3.7" fill="none" stroke="#000" stroke-width="1.7"/>
<text x="1322.8" y="707.3" font-size="18" text-anchor="start" fill="#000" font-weight="normal" >Н4</text>
<line x1="1356" y1="692.6" x2="1356" y2="711.4" stroke="#000" stroke-width="1.7" />
<circle cx="1360.6" cy="697.4" r="3.7" fill="none" stroke="#000" stroke-width="1.7"/>
<circle cx="1360.6" cy="706.6" r="3.7" fill="none" stroke="#000" stroke-width="1.7"/>
<circle cx="1369.5" cy="697.4" r="3.7" fill="none" stroke="#000" stroke-width="1.7"/>
<circle cx="1369.5" cy="706.6" r="3.7" fill="none" stroke="#000" stroke-width="1.7"/>
<text x="1323" y="760" font-size="18" text-anchor="start" fill="#000" font-weight="normal" >Н5</text>
<line x1="1356" y1="745.1" x2="1356" y2="763.9" stroke="#000" stroke-width="1.7" />
<circle cx="1360.6" cy="749.9" r="3.7" fill="none" stroke="#000" stroke-width="1.7"/>
<circle cx="1360.6" cy="759.1" r="3.7" fill="none" stroke="#000" stroke-width="1.7"/>
<circle cx="1369.5" cy="749.9" r="3.7" fill="none" stroke="#000" stroke-width="1.7"/>
<circle cx="1369.5" cy="759.1" r="3.7" fill="none" stroke="#000" stroke-width="1.7"/>
<g transform="translate(1512,710) rotate(-45)"><text x="0" y="0" font-size="18">Н6</text><line x1="33" y1="-16" x2="33" y2="3" stroke="#000" stroke-width="1.7"/><circle cx="37.6" cy="-11" r="3.7" fill="none" stroke="#000" stroke-width="1.7"/><circle cx="46.5" cy="-11" r="3.7" fill="none" stroke="#000" stroke-width="1.7"/><circle cx="37.6" cy="-1.7" r="3.7" fill="none" stroke="#000" stroke-width="1.7"/><circle cx="46.5" cy="-1.7" r="3.7" fill="none" stroke="#000" stroke-width="1.7"/></g>
<polyline points="1188,360 1198,360 1198,390 1188,390" fill="none" stroke="#000" stroke-width="1.7" stroke-linejoin="miter" />
<line x1="1198" y1="375" x2="1231" y2="375" stroke="#000" stroke-width="1.7" />
<text x="1249" y="382" font-size="18" text-anchor="middle" fill="#000" font-weight="normal" >12</text>
<line x1="1266" y1="375" x2="1437" y2="375" stroke="#000" stroke-width="1.7" />
<text x="1455.5" y="382" font-size="18" text-anchor="middle" fill="#000" font-weight="normal" >25</text>
<line x1="1472.5" y1="375" x2="1552" y2="375" stroke="#000" stroke-width="1.7" />
<line x1="1581" y1="375" x2="1660" y2="375" stroke="#000" stroke-width="1.7" />
<polygon points="1679,375 1658,380.5 1658,369.5" fill="#000" stroke="none" stroke-width="0" />
<text x="1666.5" y="401" font-size="19" text-anchor="middle" fill="#000" font-weight="normal" textLength="181" lengthAdjust="spacingAndGlyphs" >Ивановский ПУ ОАО</text>
<text x="1666" y="428" font-size="19" text-anchor="middle" fill="#000" font-weight="normal" textLength="172" lengthAdjust="spacingAndGlyphs" >&quot;Дрогичинский КЗ&quot;</text>
<line x1="1325" y1="369.4" x2="1325" y2="380.6" stroke="#000" stroke-width="1.5" />
<polygon points="1325,375 1341,375 1336,386" fill="#000" stroke="none" stroke-width="0" />
<line x1="1325" y1="375" x2="1353.1" y2="403.1" stroke="#000" stroke-width="1.7" />
<line x1="1377.6" y1="427" x2="1425.4" y2="475" stroke="#000" stroke-width="1.7" />
<text x="1311" y="392" font-size="18" text-anchor="middle" fill="#000" font-weight="normal" >24</text>
<text x="1357" y="414" font-size="18" text-anchor="start" fill="#000" font-weight="normal" transform="rotate(45 1357 414)" >29</text>
<text x="1355" y="350" font-size="18" text-anchor="start" fill="#000" font-weight="normal" >М16</text>
<line x1="1388" y1="352.7" x2="1388" y2="363.3" stroke="#000" stroke-width="1.7" />
<line x1="1388" y1="358" x2="1378" y2="358" stroke="#000" stroke-width="1.7" />
<circle cx="1373.3" cy="358" r="3.8" fill="none" stroke="#000" stroke-width="1.7"/>
<circle cx="1364.3" cy="358" r="3.8" fill="none" stroke="#000" stroke-width="1.7"/>
<text x="1212" y="354" font-size="16" text-anchor="start" fill="#000" font-weight="normal" textLength="123" lengthAdjust="spacingAndGlyphs" >Lпол=128м, 9у.в.</text>
<text x="1398" y="360" font-size="16" text-anchor="start" fill="#000" font-weight="normal" textLength="132" lengthAdjust="spacingAndGlyphs" >Lпол=158м, 11у.в.</text>
<polyline points="1403.4,399.4 1405.2,416.3 1358,433.1 1350.3,419.6" fill="none" stroke="#000" stroke-width="1.7" stroke-linejoin="miter" />
<polyline points="1420.5,447 1412,433.7 1365,450.9 1367,466.2" fill="none" stroke="#000" stroke-width="1.7" stroke-linejoin="miter" />
<line x1="1362.3" y1="441.7" x2="1410.7" y2="424.5" stroke="#000" stroke-width="1.6" stroke-dasharray="14,5,2,5"/>
<text x="1419" y="433" font-size="19" text-anchor="start" fill="#000" font-weight="normal" transform="rotate(-18 1419 433)" >Ось переезда</text>
<text x="1439.5" y="456" font-size="19" text-anchor="start" fill="#000" font-weight="normal" transform="rotate(-20 1439.5 456)" >ПК6759+25</text>
<text x="1301.5" y="399" font-size="16" text-anchor="start" fill="#000" font-weight="normal" transform="rotate(47 1301.5 399)" >Lпол=97м,</text>
<text x="1301" y="432" font-size="16" text-anchor="start" fill="#000" font-weight="normal" transform="rotate(47 1301 432)" >6у.в.</text>
<line x1="1192" y1="526.5" x2="1243" y2="475" stroke="#000" stroke-width="1.7" />
<line x1="1192" y1="520.9" x2="1192" y2="532.1" stroke="#000" stroke-width="1.5" />
<polygon points="1192,526.5 1208,526.5 1203,515.5" fill="#000" stroke="none" stroke-width="0" />
<text x="1185" y="548" font-size="18" text-anchor="middle" fill="#000" font-weight="normal" >26</text>
<line x1="1243" y1="475" x2="1286" y2="475" stroke="#000" stroke-width="1.7" />
<line x1="1279" y1="469.4" x2="1279" y2="480.6" stroke="#000" stroke-width="1.5" />
<polygon points="1279,475 1263,475 1268,486" fill="#000" stroke="none" stroke-width="0" />
<line x1="1253" y1="501" x2="1279" y2="475" stroke="#000" stroke-width="1.7" />
<text x="1231" y="467" font-size="18" text-anchor="start" fill="#000" font-weight="normal" textLength="47" lengthAdjust="spacingAndGlyphs" >СО28</text>
<polygon points="1286,466.2 1309.6,466.2 1309.6,457.3 1338,457.3 1338,466.2 1358,466.2 1358,483.4 1286,483.4" fill="none" stroke="#000" stroke-width="1.7" />
<line x1="1286" y1="475" x2="1354.4" y2="475" stroke="#000" stroke-width="1.7" />
<text x="1371.5" y="481.5" font-size="18" text-anchor="middle" fill="#000" font-weight="normal" >30</text>
<line x1="1389.5" y1="475" x2="1500.8" y2="475" stroke="#000" stroke-width="1.7" />
<line x1="1500.8" y1="475" x2="1552" y2="526.5" stroke="#000" stroke-width="1.7" />
<line x1="1425.4" y1="469.4" x2="1425.4" y2="480.6" stroke="#000" stroke-width="1.5" />
<polygon points="1425.4,475 1409.4,475 1414.4,464" fill="#000" stroke="none" stroke-width="0" />
<line x1="1466.3" y1="469.4" x2="1466.3" y2="480.6" stroke="#000" stroke-width="1.5" />
<polygon points="1466.3,475 1482.3,475 1477.3,464" fill="#000" stroke="none" stroke-width="0" />
<line x1="1466.3" y1="475" x2="1491.6" y2="450.3" stroke="#000" stroke-width="1.7" />
<text x="1437.7" y="495.6" font-size="18" text-anchor="middle" fill="#000" font-weight="normal" >22</text>
<text x="1458.5" y="498.1" font-size="18" text-anchor="start" fill="#000" font-weight="normal" textLength="46" lengthAdjust="spacingAndGlyphs" >СО30</text>
<text x="1292.5" y="502.4" font-size="16" text-anchor="start" fill="#000" font-weight="normal" textLength="122.5" lengthAdjust="spacingAndGlyphs" >Lпол=113м, 8у.в.</text>
<line x1="1552" y1="520.9" x2="1552" y2="532.1" stroke="#000" stroke-width="1.5" />
<polygon points="1552,526.5 1536,526.5 1541,515.5" fill="#000" stroke="none" stroke-width="0" />
<text x="1564" y="522" font-size="18" text-anchor="middle" fill="#000" font-weight="normal" >14</text>
<line x1="1339.5" y1="526.5" x2="1368" y2="526.5" stroke="#000" stroke-width="4" />
<polygon points="1373,526.5 1365.5,520.9 1367,526.5 1365.5,532.1" fill="#000" stroke="#000" stroke-width="0.8" />
<line x1="1380" y1="526.5" x2="1408" y2="526.5" stroke="#000" stroke-width="4" />
<polygon points="1375,526.5 1382.5,520.9 1381,526.5 1382.5,532.1" fill="#000" stroke="#000" stroke-width="0.8" />
<text x="1465" y="549" font-size="18" text-anchor="start" fill="#000" font-weight="normal" >Н1</text>
<line x1="1489" y1="538.4" x2="1489" y2="549" stroke="#000" stroke-width="1.7" />
<line x1="1489" y1="543.7" x2="1499" y2="543.7" stroke="#000" stroke-width="1.7" />
<circle cx="1503.7" cy="543.7" r="3.8" fill="none" stroke="#000" stroke-width="1.7"/>
<circle cx="1512.7" cy="543.7" r="3.8" fill="none" stroke="#000" stroke-width="1.7"/>
<line x1="1652" y1="571.4" x2="1652" y2="582.6" stroke="#000" stroke-width="1.5" />
<polygon points="1652,577 1636,577 1641,566" fill="#000" stroke="none" stroke-width="0" />
<text x="1660.6" y="573" font-size="18" text-anchor="middle" fill="#000" font-weight="normal" >8</text>
<line x1="1728" y1="571.4" x2="1728" y2="582.6" stroke="#000" stroke-width="1.5" />
<polygon points="1728,577 1712,577 1717,588" fill="#000" stroke="none" stroke-width="0" />
<line x1="1728" y1="577" x2="1677" y2="627.2" stroke="#000" stroke-width="1.7" />
<text x="1734" y="573" font-size="18" text-anchor="middle" fill="#000" font-weight="normal" >4</text>
<line x1="1677" y1="621.6" x2="1677" y2="632.8" stroke="#000" stroke-width="1.5" />
<polygon points="1677,627.2 1693,627.2 1688,616.2" fill="#000" stroke="none" stroke-width="0" />
<text x="1671" y="645" font-size="18" text-anchor="middle" fill="#000" font-weight="normal" >6</text>
<line x1="1753.5" y1="621.6" x2="1753.5" y2="632.8" stroke="#000" stroke-width="1.5" />
<polygon points="1753.5,627.2 1737.5,627.2 1742.5,638.2" fill="#000" stroke="none" stroke-width="0" />
<text x="1760" y="620.5" font-size="18" text-anchor="middle" fill="#000" font-weight="normal" >2</text>
<line x1="1631" y1="627.2" x2="1800" y2="627.2" stroke="#000" stroke-width="1.7" />
<line x1="1832" y1="627.2" x2="1855.5" y2="627.2" stroke="#000" stroke-width="1.7" />
<polyline points="1865.5,612.2 1855.5,612.2 1855.5,642.2 1865.5,642.2" fill="none" stroke="#000" stroke-width="1.7" stroke-linejoin="miter" />
<line x1="1753.5" y1="627.2" x2="1728.5" y2="652.5" stroke="#000" stroke-width="1.7" />
<line x1="1728.5" y1="652.5" x2="1728.5" y2="761.7" stroke="#000" stroke-width="1.7" />
<text x="1735" y="781.7" font-size="18" text-anchor="middle" fill="#000" font-weight="normal" transform="rotate(-90 1735 781.7)" >22</text>
<line x1="1728.5" y1="800" x2="1728.5" y2="912.8" stroke="#000" stroke-width="1.7" />
<text x="1713.3" y="758.3" font-size="16" text-anchor="middle" fill="#000" font-weight="normal" textLength="133.5" lengthAdjust="spacingAndGlyphs" transform="rotate(-90 1713.3 758.3)" >Lпол=173м, 12у.в.</text>
<g transform="translate(1745,661) rotate(-45)"><line x1="0" y1="-5" x2="0" y2="5" stroke="#000" stroke-width="1.7"/><circle cx="4.1" cy="0" r="4.1" fill="none" stroke="#000" stroke-width="1.7"/><circle cx="12.3" cy="0" r="4.1" fill="none" stroke="#000" stroke-width="1.7"/></g>
<text x="1751" y="691" font-size="18" text-anchor="start" fill="#000" font-weight="normal" transform="rotate(-45 1751 691)" >М8</text>
<text x="1770.7" y="658.6" font-size="16" text-anchor="start" fill="#000" font-weight="normal" textLength="115.3" lengthAdjust="spacingAndGlyphs" >Lпол=43м, 3у.в.</text>
<g filter="url(#shd)"><rect x="1631" y="622" width="224" height="11" fill="#e83c3c" fill-opacity="0.8" stroke="#6a1010" stroke-width="1.3"/></g>
<text x="1816" y="634" font-size="18" text-anchor="middle" fill="#2a0a0a" font-weight="normal" >11</text>
<polyline points="1882.5,532 1896.7,546 1896.7,606 1882.5,619" fill="none" stroke="#000" stroke-width="1.7" stroke-linejoin="miter" />
<polyline points="1928.7,532 1915,546 1915,606 1928.7,619" fill="none" stroke="#000" stroke-width="1.7" stroke-linejoin="miter" />
<line x1="1906" y1="529" x2="1906" y2="639" stroke="#000" stroke-width="1.7" stroke-dasharray="14.5,6,2,6"/>
<text x="1900" y="447.5" font-size="19" text-anchor="middle" fill="#000" font-weight="normal" textLength="123" lengthAdjust="spacingAndGlyphs" transform="rotate(-90 1900 447.5)" >Ось переезда</text>
<text x="1925.5" y="446.8" font-size="19" text-anchor="middle" fill="#000" font-weight="normal" textLength="99.5" lengthAdjust="spacingAndGlyphs" transform="rotate(-90 1925.5 446.8)" >ПК6764+61</text>
<g filter="url(#shd)" opacity="0.88"><line x1="1833" y1="591" x2="1892" y2="659" stroke="#8a1414" stroke-width="5"/><line x1="1902" y1="591" x2="1826" y2="663.5" stroke="#8a1414" stroke-width="5"/><line x1="1833.6" y1="591.7" x2="1891.4" y2="658.3" stroke="#f24a4a" stroke-width="3.2"/><line x1="1901.3" y1="591.7" x2="1826.7" y2="662.8" stroke="#f24a4a" stroke-width="3.2"/></g>
<g filter="url(#shd)"><polygon points="1850.5,499 1875.6,499 1872,558 1854,558" fill="#ee0c0c" stroke="#3a0000" stroke-width="1"/><rect x="1852.5" y="568" width="21.5" height="22" fill="#ee0c0c" stroke="#3a0000" stroke-width="1"/></g>
<text x="1949" y="511" font-size="19" text-anchor="start" fill="#000" font-weight="normal" textLength="79.6" lengthAdjust="spacingAndGlyphs" >Трудовая</text>
<line x1="1943" y1="526" x2="2021" y2="526" stroke="#000" stroke-width="1.7" />
<polygon points="2040,526 2019,531.5 2019,520.5" fill="#000" stroke="none" stroke-width="0" />
<line x1="1983" y1="550.2" x2="1983" y2="560.8" stroke="#000" stroke-width="1.7" />
<line x1="1983" y1="555.5" x2="1973" y2="555.5" stroke="#000" stroke-width="1.7" />
<circle cx="1968.3" cy="555.5" r="3.8" fill="none" stroke="#000" stroke-width="1.7"/>
<circle cx="1959.3" cy="555.5" r="3.8" fill="none" stroke="#000" stroke-width="1.7"/>
<text x="1990.6" y="563" font-size="18" text-anchor="start" fill="#000" font-weight="normal" >Ч</text>
<line x1="1949" y1="577" x2="1976" y2="577" stroke="#000" stroke-width="4" />
<polygon points="1981,577 1973.5,571.4 1975,577 1973.5,582.6" fill="#000" stroke="#000" stroke-width="0.8" />
<line x1="1990" y1="577" x2="2017.6" y2="577" stroke="#000" stroke-width="4" />
<polygon points="1985,577 1992.5,571.4 1991,577 1992.5,582.6" fill="#000" stroke="#000" stroke-width="0.8" />
<text x="1958" y="608" font-size="19" text-anchor="start" fill="#000" font-weight="normal" textLength="80.5" lengthAdjust="spacingAndGlyphs" >АБ двуст.</text>
<polyline points="1037,864.4 1047.3,864.4 1047.3,894.4 1037,894.4" fill="none" stroke="#000" stroke-width="1.7" stroke-linejoin="miter" />
<line x1="1047.3" y1="879.4" x2="1457.3" y2="879.4" stroke="#000" stroke-width="1.7" />
<text x="1476" y="886.5" font-size="18" text-anchor="middle" fill="#000" font-weight="normal" >27</text>
<line x1="1493.4" y1="879.4" x2="1552" y2="879.4" stroke="#000" stroke-width="1.7" />
<line x1="1552" y1="879.4" x2="1602.2" y2="930" stroke="#000" stroke-width="1.7" />
<polyline points="1037,915 1047.3,915 1047.3,945 1037,945" fill="none" stroke="#000" stroke-width="1.7" stroke-linejoin="miter" />
<line x1="1047.3" y1="930" x2="1457.3" y2="930" stroke="#000" stroke-width="1.7" />
<text x="1476" y="937" font-size="18" text-anchor="middle" fill="#000" font-weight="normal" >26</text>
<line x1="1493.4" y1="930" x2="1710.5" y2="930" stroke="#000" stroke-width="1.7" />
<line x1="1602.2" y1="924.4" x2="1602.2" y2="935.6" stroke="#000" stroke-width="1.5" />
<polygon points="1602.2,930 1586.2,930 1591.2,919" fill="#000" stroke="none" stroke-width="0" />
<text x="1594" y="920" font-size="18" text-anchor="start" fill="#000" font-weight="normal" textLength="42" lengthAdjust="spacingAndGlyphs" >300Б</text>
<text x="1665.8" y="922.8" font-size="18" text-anchor="start" fill="#000" font-weight="normal" textLength="43.8" lengthAdjust="spacingAndGlyphs" >300А</text>
<line x1="1706.5" y1="926" x2="1714.5" y2="934" stroke="#000" stroke-width="1.5" />
<line x1="1728.5" y1="912.8" x2="1686" y2="954.4" stroke="#000" stroke-width="1.7" />
<line x1="1686" y1="954.4" x2="1686" y2="1056.6" stroke="#000" stroke-width="1.7" />
<text x="1684.2" y="1078.3" font-size="18" text-anchor="middle" fill="#000" font-weight="normal" >20</text>
<line x1="1686" y1="1087.8" x2="1686" y2="1308.9" stroke="#000" stroke-width="1.7" />
<line x1="1686" y1="1308.9" x2="1710.7" y2="1334" stroke="#000" stroke-width="1.7" />
<text x="1674.4" y="1183" font-size="16" text-anchor="middle" fill="#000" font-weight="normal" textLength="133" lengthAdjust="spacingAndGlyphs" transform="rotate(-90 1674.4 1183)" >Lпол=397м, 28у.в.</text>
<text x="1407" y="867.8" font-size="16" text-anchor="start" fill="#000" font-weight="normal" textLength="132.6" lengthAdjust="spacingAndGlyphs" >Lпол=385м, 27у.в.</text>
<text x="1407" y="916" font-size="16" text-anchor="start" fill="#000" font-weight="normal" textLength="132.6" lengthAdjust="spacingAndGlyphs" >Lпол=391м, 27у.в.</text>
<text x="1412" y="964.8" font-size="16" text-anchor="start" fill="#000" font-weight="normal" textLength="123" lengthAdjust="spacingAndGlyphs" >Lпол=573м, 9у.в.</text>
<text x="1476" y="987.5" font-size="18" text-anchor="middle" fill="#000" font-weight="normal" >28</text>
<line x1="1493.4" y1="980.5" x2="1552.4" y2="980.5" stroke="#000" stroke-width="1.7" />
<polyline points="1561.9,965.1 1552.4,965.1 1552.4,995.9 1561.9,995.9" fill="none" stroke="#000" stroke-width="1.7" stroke-linejoin="miter" />
<line x1="1223.6" y1="1131.6" x2="1327.5" y2="1031" stroke="#000" stroke-width="1.7" />
<line x1="1327.5" y1="1031" x2="1457.3" y2="1031" stroke="#000" stroke-width="1.7" />
<text x="1476" y="1038" font-size="18" text-anchor="middle" fill="#000" font-weight="normal" >33</text>
<line x1="1493.4" y1="1031" x2="1552.4" y2="1031" stroke="#000" stroke-width="1.7" />
<polyline points="1561.9,1015.6 1552.4,1015.6 1552.4,1046.4 1561.9,1046.4" fill="none" stroke="#000" stroke-width="1.7" stroke-linejoin="miter" />
<text x="1408" y="1018.9" font-size="16" text-anchor="start" fill="#000" font-weight="normal" textLength="132" lengthAdjust="spacingAndGlyphs" >Lпол=299м, 21у.в.</text>
<line x1="1375.3" y1="1131.6" x2="1425.8" y2="1081.8" stroke="#000" stroke-width="1.7" />
<line x1="1425.8" y1="1081.8" x2="1457.3" y2="1081.8" stroke="#000" stroke-width="1.7" />
<text x="1476" y="1088.8" font-size="18" text-anchor="middle" fill="#000" font-weight="normal" >16</text>
<line x1="1493.4" y1="1081.8" x2="1552.4" y2="1081.8" stroke="#000" stroke-width="1.7" />
<polyline points="1561.9,1066.4 1552.4,1066.4 1552.4,1097.2 1561.9,1097.2" fill="none" stroke="#000" stroke-width="1.7" stroke-linejoin="miter" />
<text x="1408" y="1070" font-size="16" text-anchor="start" fill="#000" font-weight="normal" textLength="132" lengthAdjust="spacingAndGlyphs" >Lпол=218м, 18у.в.</text>
<line x1="1122.5" y1="1131.6" x2="1457.3" y2="1131.6" stroke="#000" stroke-width="1.7" />
<text x="1476" y="1138.6" font-size="18" text-anchor="middle" fill="#000" font-weight="normal" >17</text>
<line x1="1493.4" y1="1131.6" x2="1552.4" y2="1131.6" stroke="#000" stroke-width="1.7" />
<polyline points="1561.9,1116.2 1552.4,1116.2 1552.4,1147 1561.9,1147" fill="none" stroke="#000" stroke-width="1.7" stroke-linejoin="miter" />
<text x="1408" y="1116.5" font-size="16" text-anchor="start" fill="#000" font-weight="normal" textLength="132" lengthAdjust="spacingAndGlyphs" >Lпол=218м, 18у.в.</text>
<line x1="1299.3" y1="1131.6" x2="1350" y2="1182.5" stroke="#000" stroke-width="1.7" />
<line x1="1350" y1="1182.5" x2="1457.3" y2="1182.5" stroke="#000" stroke-width="1.7" />
<text x="1476" y="1189.5" font-size="18" text-anchor="middle" fill="#000" font-weight="normal" >18</text>
<line x1="1493.4" y1="1182.5" x2="1552.4" y2="1182.5" stroke="#000" stroke-width="1.7" />
<polyline points="1561.9,1167.1 1552.4,1167.1 1552.4,1197.9 1561.9,1197.9" fill="none" stroke="#000" stroke-width="1.7" stroke-linejoin="miter" />
<text x="1410.8" y="1168.4" font-size="16" text-anchor="start" fill="#000" font-weight="normal" textLength="132.2" lengthAdjust="spacingAndGlyphs" >Lпол=266м, 19у.в.</text>
<line x1="1248.5" y1="1232.7" x2="1459.8" y2="1232.7" stroke="#000" stroke-width="1.7" />
<text x="1477.6" y="1239.7" font-size="18" text-anchor="middle" fill="#000" font-weight="normal" >19</text>
<line x1="1494.5" y1="1232.7" x2="1552.4" y2="1232.7" stroke="#000" stroke-width="1.7" />
<polyline points="1561.9,1217.3 1552.4,1217.3 1552.4,1248.1 1561.9,1248.1" fill="none" stroke="#000" stroke-width="1.7" stroke-linejoin="miter" />
<text x="1412.7" y="1217.6" font-size="16" text-anchor="start" fill="#000" font-weight="normal" textLength="132" lengthAdjust="spacingAndGlyphs" >Lпол=281м, 20у.в.</text>
<line x1="1147.9" y1="1126" x2="1147.9" y2="1137.2" stroke="#000" stroke-width="1.5" />
<line x1="1147.9" y1="1131.6" x2="1299.4" y2="1283.4" stroke="#000" stroke-width="1.7" />
<line x1="1223.6" y1="1126" x2="1223.6" y2="1137.2" stroke="#000" stroke-width="1.5" />
<polygon points="1223.6,1131.6 1239.6,1131.6 1234.6,1120.6" fill="#000" stroke="none" stroke-width="0" />
<line x1="1299.3" y1="1126" x2="1299.3" y2="1137.2" stroke="#000" stroke-width="1.5" />
<polygon points="1299.3,1131.6 1315.3,1131.6 1310.3,1142.6" fill="#000" stroke="none" stroke-width="0" />
<line x1="1375.3" y1="1126" x2="1375.3" y2="1137.2" stroke="#000" stroke-width="1.5" />
<polygon points="1375.3,1131.6 1391.3,1131.6 1386.3,1120.6" fill="#000" stroke="none" stroke-width="0" />
<line x1="1244.5" y1="1236.7" x2="1252.5" y2="1228.7" stroke="#000" stroke-width="1.5" />
<text x="1137.5" y="1123.3" font-size="18" text-anchor="middle" fill="#000" font-weight="normal" >303</text>
<text x="1209" y="1126.6" font-size="18" text-anchor="middle" fill="#000" font-weight="normal" >307</text>
<text x="1281.8" y="1127" font-size="18" text-anchor="middle" fill="#000" font-weight="normal" >309</text>
<text x="1356.7" y="1128.8" font-size="18" text-anchor="middle" fill="#000" font-weight="normal" >311</text>
<text x="1222.8" y="1241.8" font-size="18" text-anchor="middle" fill="#000" font-weight="normal" >305</text>
<line x1="1299.4" y1="1283.4" x2="1360.8" y2="1283.4" stroke="#000" stroke-width="1.7" />
<line x1="1325.1" y1="1277.8" x2="1325.1" y2="1289" stroke="#000" stroke-width="1.5" />
<line x1="1325.1" y1="1283.4" x2="1373.7" y2="1334" stroke="#000" stroke-width="1.7" />
<line x1="1335" y1="1257.6" x2="1386.5" y2="1309" stroke="#000" stroke-width="1.6" stroke-dasharray="6.5,4"/>
<text x="1379.2" y="1284.6" font-size="19" text-anchor="start" fill="#000" font-weight="normal" >Депо</text>
<text x="1309.3" y="1304.4" font-size="18" text-anchor="middle" fill="#000" font-weight="normal" >313</text>
<line x1="1373.7" y1="1334" x2="1507.3" y2="1334" stroke="#000" stroke-width="1.7" />
<text x="1524.6" y="1341" font-size="18" text-anchor="middle" fill="#000" font-weight="normal" >21</text>
<line x1="1542" y1="1334" x2="1839.7" y2="1334" stroke="#000" stroke-width="1.7" />
<text x="1421.6" y="1360.2" font-size="16" text-anchor="start" fill="#000" font-weight="normal" textLength="132.3" lengthAdjust="spacingAndGlyphs" >Lпол=615м, 43у.в.</text>
<line x1="1710.7" y1="1328.4" x2="1710.7" y2="1339.6" stroke="#000" stroke-width="1.5" />
<line x1="1804.5" y1="1328.4" x2="1804.5" y2="1339.6" stroke="#000" stroke-width="1.5" />
<line x1="1804.5" y1="1334" x2="1830" y2="1359.4" stroke="#000" stroke-width="1.7" />
<line x1="1853.6" y1="1312.5" x2="1828" y2="1368" stroke="#000" stroke-width="1.6" stroke-dasharray="6.5,4"/>
<line x1="1850.4" y1="1348.8" x2="1919" y2="1385.6" stroke="#000" stroke-width="1.7" />
<polygon points="1935.7,1394.6 1914.6,1389.5 1919.8,1379.8" fill="#000" stroke="none" stroke-width="0" />
<text x="1790.6" y="1325.3" font-size="18" text-anchor="middle" fill="#000" font-weight="normal" >314</text>
<text x="1728.8" y="1354.5" font-size="18" text-anchor="middle" fill="#000" font-weight="normal" >312</text>
<polyline points="1638,1349.4 1654,1355.8 1712.8,1286.9 1704.2,1270.9" fill="none" stroke="#000" stroke-width="1.7" stroke-linejoin="miter" />
<polyline points="1676.5,1382.3 1669.7,1366.5 1727.7,1298.7 1743.7,1302.9" fill="none" stroke="#000" stroke-width="1.7" stroke-linejoin="miter" />
<line x1="1657.3" y1="1366.5" x2="1729.8" y2="1280.5" stroke="#000" stroke-width="1.6" stroke-dasharray="14,5,2,5"/>
<text x="1737" y="1284" font-size="19" text-anchor="start" fill="#000" font-weight="normal" textLength="124" lengthAdjust="spacingAndGlyphs" transform="rotate(-48 1737 1284)" >Ось переезда</text>
<text x="1789" y="1388.2" font-size="19" text-anchor="middle" fill="#000" font-weight="normal" >ОАО &quot;Ивановский</text>
<text x="1789" y="1413.5" font-size="19" text-anchor="middle" fill="#000" font-weight="normal" >райагросервис&quot;, ПЧ-5</text>
<text x="1789" y="1438.8" font-size="19" text-anchor="middle" fill="#000" font-weight="normal" >КУМПП ЖКХ &quot;Ивановское</text>
<text x="1789" y="1464.1" font-size="19" text-anchor="middle" fill="#000" font-weight="normal" >ЖКХ&quot;, ООО &quot;Евросиликат&quot;</text>
<text x="471" y="1062.6" font-size="19" text-anchor="start" fill="#000" font-weight="normal" textLength="131" lengthAdjust="spacingAndGlyphs" >Грузовой двор</text>
<polyline points="26.4,1116.4 36.5,1116.4 36.5,1146.8 26.4,1146.8" fill="none" stroke="#000" stroke-width="1.7" stroke-linejoin="miter" />
<line x1="36.5" y1="1131.6" x2="82.4" y2="1131.6" stroke="#000" stroke-width="1.7" />
<text x="99.4" y="1138.6" font-size="18" text-anchor="middle" fill="#000" font-weight="normal" >40</text>
<line x1="117.5" y1="1131.6" x2="309.7" y2="1131.6" stroke="#000" stroke-width="1.7" />
<text x="326.8" y="1138.6" font-size="18" text-anchor="middle" fill="#000" font-weight="normal" >35</text>
<line x1="344.6" y1="1131.6" x2="723.7" y2="1131.6" stroke="#000" stroke-width="1.7" />
<text x="741.5" y="1138.6" font-size="18" text-anchor="middle" fill="#000" font-weight="normal" >31</text>
<line x1="759.3" y1="1131.6" x2="1008.8" y2="1131.6" stroke="#000" stroke-width="1.7" />
<line x1="1008.8" y1="1093.6" x2="1008.8" y2="1166.2" stroke="#000" stroke-width="1.6" stroke-dasharray="6,3.5"/>
<text x="1031.5" y="1106" font-size="18" text-anchor="middle" fill="#000" font-weight="normal" transform="rotate(-90 1031.5 1106)" >А</text>
<text x="1031.5" y="1157" font-size="18" text-anchor="middle" fill="#000" font-weight="normal" transform="rotate(-90 1031.5 1157)" >А</text>
<line x1="188" y1="1126" x2="188" y2="1137.2" stroke="#000" stroke-width="1.5" />
<line x1="188" y1="1131.6" x2="238.4" y2="1182.5" stroke="#000" stroke-width="1.7" />
<line x1="238.4" y1="1182.5" x2="309.7" y2="1182.5" stroke="#000" stroke-width="1.7" />
<text x="326.8" y="1189.3" font-size="18" text-anchor="middle" fill="#000" font-weight="normal" >36</text>
<line x1="344.6" y1="1182.5" x2="415.4" y2="1182.5" stroke="#000" stroke-width="1.7" />
<line x1="415.4" y1="1182.5" x2="465.5" y2="1131.6" stroke="#000" stroke-width="1.7" />
<line x1="465.5" y1="1126" x2="465.5" y2="1137.2" stroke="#000" stroke-width="1.5" />
<polyline points="228.8,1217.7 239,1217.7 239,1247.7 228.8,1247.7" fill="none" stroke="#000" stroke-width="1.7" stroke-linejoin="miter" />
<line x1="239" y1="1232.7" x2="309.7" y2="1232.7" stroke="#000" stroke-width="1.7" />
<text x="326.8" y="1239.5" font-size="18" text-anchor="middle" fill="#000" font-weight="normal" >37</text>
<line x1="344.6" y1="1232.7" x2="440" y2="1232.7" stroke="#000" stroke-width="1.7" />
<line x1="436" y1="1228.7" x2="444" y2="1236.7" stroke="#000" stroke-width="1.5" />
<polyline points="228.8,1268.4 239,1268.4 239,1298.4 228.8,1298.4" fill="none" stroke="#000" stroke-width="1.7" stroke-linejoin="miter" />
<line x1="239" y1="1283.4" x2="309.7" y2="1283.4" stroke="#000" stroke-width="1.7" />
<text x="326.8" y="1290.3" font-size="18" text-anchor="middle" fill="#000" font-weight="normal" >38</text>
<line x1="344.6" y1="1283.4" x2="390.4" y2="1283.4" stroke="#000" stroke-width="1.7" />
<line x1="390.4" y1="1283.4" x2="541.6" y2="1131.6" stroke="#000" stroke-width="1.7" />
<line x1="541.6" y1="1126" x2="541.6" y2="1137.2" stroke="#000" stroke-width="1.5" />
<text x="323.5" y="1309.5" font-size="19" text-anchor="middle" fill="#000" font-weight="normal" textLength="121" lengthAdjust="spacingAndGlyphs" >повышенный</text>
<text x="41.6" y="1113.5" font-size="16" text-anchor="start" fill="#000" font-weight="normal" textLength="113.4" lengthAdjust="spacingAndGlyphs" >Lпол=75м, 4у.в.</text>
<text x="177.3" y="1123.7" font-size="18" text-anchor="middle" fill="#000" font-weight="normal" >111</text>
<text x="258.5" y="1112.7" font-size="16" text-anchor="start" fill="#000" font-weight="normal" textLength="132.5" lengthAdjust="spacingAndGlyphs" >Lпол=673м, 48у.в.</text>
<text x="258.5" y="1163.7" font-size="16" text-anchor="start" fill="#000" font-weight="normal" textLength="132.5" lengthAdjust="spacingAndGlyphs" >Lпол=674м, 48у.в.</text>
<text x="258.5" y="1213.8" font-size="16" text-anchor="start" fill="#000" font-weight="normal" textLength="132.5" lengthAdjust="spacingAndGlyphs" >Lпол=709м, 50у.в.</text>
<text x="258.5" y="1266.8" font-size="16" text-anchor="start" fill="#000" font-weight="normal" textLength="132.5" lengthAdjust="spacingAndGlyphs" >Lпол=273м, 19у.в.</text>
<text x="476.2" y="1123.7" font-size="18" text-anchor="middle" fill="#000" font-weight="normal" >110</text>
<text x="530.4" y="1123.7" font-size="18" text-anchor="middle" fill="#000" font-weight="normal" >108</text>
<text x="463" y="1245" font-size="18" text-anchor="middle" fill="#000" font-weight="normal" >109</text>
<line x1="592.6" y1="1126" x2="592.6" y2="1137.2" stroke="#000" stroke-width="1.5" />
<line x1="592.6" y1="1131.6" x2="642.7" y2="1182.5" stroke="#000" stroke-width="1.7" />
<line x1="642.7" y1="1182.5" x2="723.7" y2="1182.5" stroke="#000" stroke-width="1.7" />
<text x="740.2" y="1189.3" font-size="18" text-anchor="middle" fill="#000" font-weight="normal" >32</text>
<line x1="758" y1="1182.5" x2="895.5" y2="1182.5" stroke="#000" stroke-width="1.7" />
<line x1="891.5" y1="1178.5" x2="899.5" y2="1186.5" stroke="#000" stroke-width="1.5" />
<polyline points="633.3,1217.5 643.5,1217.5 643.5,1247.9 633.3,1247.9" fill="none" stroke="#000" stroke-width="1.7" stroke-linejoin="miter" />
<line x1="643.5" y1="1232.7" x2="722.4" y2="1232.7" stroke="#000" stroke-width="1.7" />
<text x="739.4" y="1239.5" font-size="18" text-anchor="middle" fill="#000" font-weight="normal" >34</text>
<line x1="756.8" y1="1232.7" x2="844.6" y2="1232.7" stroke="#000" stroke-width="1.7" />
<line x1="844.6" y1="1232.7" x2="945.7" y2="1131.6" stroke="#000" stroke-width="1.7" />
<line x1="945.7" y1="1126" x2="945.7" y2="1137.2" stroke="#000" stroke-width="1.5" />
<line x1="795" y1="1227.1" x2="795" y2="1238.3" stroke="#000" stroke-width="1.5" />
<line x1="795" y1="1232.7" x2="845.4" y2="1283.4" stroke="#000" stroke-width="1.7" />
<line x1="845.4" y1="1283.4" x2="915.9" y2="1283.4" stroke="#000" stroke-width="1.7" />
<text x="933" y="1290.3" font-size="18" text-anchor="middle" fill="#000" font-weight="normal" >39</text>
<line x1="950.2" y1="1283.4" x2="996" y2="1283.4" stroke="#000" stroke-width="1.7" />
<polyline points="1006,1268.4 996,1268.4 996,1298.4 1006,1298.4" fill="none" stroke="#000" stroke-width="1.7" stroke-linejoin="miter" />
<text x="924.3" y="1307" font-size="19" text-anchor="middle" fill="#000" font-weight="normal" textLength="121" lengthAdjust="spacingAndGlyphs" >повышенный</text>
<text x="583.6" y="1124.7" font-size="18" text-anchor="middle" fill="#000" font-weight="normal" >107</text>
<text x="962.5" y="1124.7" font-size="18" text-anchor="middle" fill="#000" font-weight="normal" >101</text>
<text x="918.4" y="1191.7" font-size="18" text-anchor="middle" fill="#000" font-weight="normal" >102</text>
<text x="782.2" y="1224.8" font-size="18" text-anchor="middle" fill="#000" font-weight="normal" >104</text>
<text x="649.3" y="1116.6" font-size="16" text-anchor="start" fill="#000" font-weight="normal" textLength="131.7" lengthAdjust="spacingAndGlyphs" >Lпол=508м, 36у.в.</text>
<text x="647.3" y="1166.2" font-size="16" text-anchor="start" fill="#000" font-weight="normal" textLength="132.4" lengthAdjust="spacingAndGlyphs" >Lпол=463м, 33у.в.</text>
<text x="639" y="1213.3" font-size="16" text-anchor="start" fill="#000" font-weight="normal" textLength="124" lengthAdjust="spacingAndGlyphs" >Lпол=111м, 7у.в.</text>
<text x="854" y="1263.7" font-size="16" text-anchor="start" fill="#000" font-weight="normal" textLength="133" lengthAdjust="spacingAndGlyphs" >Lпол=257м, 18у.в.</text>
<g filter="url(#shd2)"><rect x="1709.3" y="946" width="390" height="175.7" rx="14" ry="14" fill="url(#gbox)" stroke="#3a3a3a" stroke-width="1.5"/></g>
<g filter="url(#shd)"><polygon points="1858.3,655 1887.3,708.3 1879.8,710.5 1950,940.2 1940,943.2 1869.8,713.5 1862.7,713.3" fill="#f04848" stroke="#702020" stroke-width="1"/></g>
<g transform="translate(1742.5,973.3) scale(1.06,1)" filter="url(#shd)"><text x="0" y="0" font-weight="bold" fill="#3a0000" letter-spacing="1.31" stroke="#3a0000" stroke-width="2.2" stroke-linejoin="round"><tspan font-size="31">М</tspan><tspan font-size="22.5">ЕСТО СТОЛКНОВЕНИЯ</tspan></text><text x="0" y="0" font-weight="bold" fill="#f20a0a" letter-spacing="1.31" stroke="#f20a0a" stroke-width="0.5" stroke-linejoin="round"><tspan font-size="31">М</tspan><tspan font-size="22.5">ЕСТО СТОЛКНОВЕНИЯ</tspan></text></g>
<g transform="translate(1771.5,1008.3) scale(1.06,1)" filter="url(#shd)"><text x="0" y="0" font-weight="bold" fill="#3a0000" letter-spacing="2.36" stroke="#3a0000" stroke-width="2.2" stroke-linejoin="round"><tspan font-size="31">28</tspan><tspan font-size="22.5">-МИ ВАГОНОВ С</tspan></text><text x="0" y="0" font-weight="bold" fill="#f20a0a" letter-spacing="2.36" stroke="#f20a0a" stroke-width="0.5" stroke-linejoin="round"><tspan font-size="31">28</tspan><tspan font-size="22.5">-МИ ВАГОНОВ С</tspan></text></g>
<g transform="translate(1727.5,1041.7) scale(1.06,1)" filter="url(#shd)"><text x="0" y="0" font-weight="bold" fill="#3a0000" letter-spacing="1.76" stroke="#3a0000" stroke-width="2.2" stroke-linejoin="round"><tspan font-size="22.5">ТУПИКОВОЙ ПРИЗМОЙ НА</tspan></text><text x="0" y="0" font-weight="bold" fill="#f20a0a" letter-spacing="1.76" stroke="#f20a0a" stroke-width="0.5" stroke-linejoin="round"><tspan font-size="22.5">ТУПИКОВОЙ ПРИЗМОЙ НА</tspan></text></g>
<g transform="translate(1781.5,1076.7) scale(1.06,1)" filter="url(#shd)"><text x="0" y="0" font-weight="bold" fill="#3a0000" letter-spacing="1.18" stroke="#3a0000" stroke-width="2.2" stroke-linejoin="round"><tspan font-size="31">11</tspan><tspan font-size="22.5"> ПУТИ СТАНЦИИ</tspan></text><text x="0" y="0" font-weight="bold" fill="#f20a0a" letter-spacing="1.18" stroke="#f20a0a" stroke-width="0.5" stroke-linejoin="round"><tspan font-size="31">11</tspan><tspan font-size="22.5"> ПУТИ СТАНЦИИ</tspan></text></g>
<g transform="translate(1775.5,1110.7) scale(1.06,1)" filter="url(#shd)"><text x="0" y="0" font-weight="bold" fill="#3a0000" letter-spacing="1.08" stroke="#3a0000" stroke-width="2.2" stroke-linejoin="round"><tspan font-size="31">Я</tspan><tspan font-size="22.5">НОВ-</tspan><tspan font-size="31">П</tspan><tspan font-size="22.5">ОЛЕССКИЙ</tspan></text><text x="0" y="0" font-weight="bold" fill="#f20a0a" letter-spacing="1.08" stroke="#f20a0a" stroke-width="0.5" stroke-linejoin="round"><tspan font-size="31">Я</tspan><tspan font-size="22.5">НОВ-</tspan><tspan font-size="31">П</tspan><tspan font-size="22.5">ОЛЕССКИЙ</tspan></text></g>
</svg>
</body></html>
